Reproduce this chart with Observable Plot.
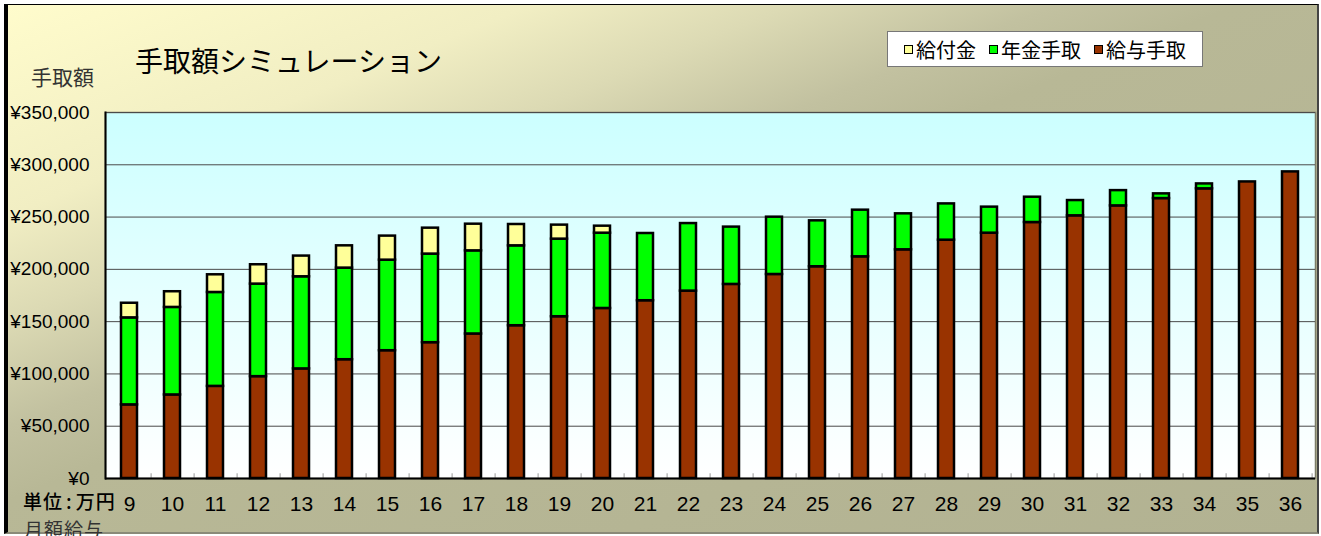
<!DOCTYPE html>
<html>
<head>
<meta charset="utf-8">
<script src="https://cdn.jsdelivr.net/npm/d3@7"></script>
<script src="https://cdn.jsdelivr.net/npm/@observablehq/plot@0.6"></script>
<style>
  body { margin: 0; background: #fff; }
  #chart { position: relative; width: 1321px; height: 536px; overflow: hidden;
           font-family: "Liberation Sans", "Noto Sans CJK JP", sans-serif; }
  #bg { position: absolute; left: 4px; top: 4px; width: 1315px; height: 530px; box-sizing: border-box;
        border-left: 4px solid #000; border-top: 1.5px solid #000; border-right: 2px solid #444; border-bottom: 2px solid #8a8a78;
        background: linear-gradient(to bottom right, #fffccc 0%, #f1eec3 20%, #dcdab4 30%, #c2c1a0 40%, #b8b896 47%, #b2b292 100%); }
  #plotwrap { position: absolute; left: 0; top: 0; }
  .lbl { position: absolute; white-space: nowrap; font-family: "Noto Sans CJK JP", sans-serif; }
  #title { left: 135px; top: 40px; font-size: 28px; color: #000; }
  #ylab { left: 31px; top: 61px; font-size: 21px; color: #333; }
  #unit { left: 23px; top: 487px; font-size: 19px; color: #000; font-weight: 500; letter-spacing: 1px; }
  #unit .c { margin: 0 3px; }
  #xlab { left: 24px; top: 515px; font-size: 19px; color: #333; letter-spacing: 1px; }
  #legend { position: absolute; left: 887px; top: 31px; width: 316px; height: 36px; box-sizing: border-box;
            background: #fff; border: 1px solid #777; display: flex; align-items: center; padding-left: 16px;
            font-family: "Noto Sans CJK JP", sans-serif; font-size: 20px; }
  .item { display: flex; align-items: center; margin-right: 13px; }
  .sw { width: 7px; height: 7px; border: 1.5px solid #000; margin-right: 3px; }
</style>
</head>
<body>
<div id="chart">
  <div id="bg"></div>
  <div id="plotwrap"></div>
  <div class="lbl" id="title">手取額シミュレーション</div>
  <div class="lbl" id="ylab">手取額</div>
  <div class="lbl" id="unit">単位<span class="c">:</span>万円</div>
  <div class="lbl" id="xlab">月額給与</div>
  <div id="legend"></div>
</div>
<script>
// ---- Data ----
const months = [9,10,11,12,13,14,15,16,17,18,19,20,21,22,23,24,25,26,27,28,29,30,31,32,33,34,35,36];
const salaryTakeHome = [70400,79900,88100,97400,104800,113600,122200,129900,138200,146100,154700,162600,170000,179200,185600,195100,202500,212000,218700,227900,234600,244800,251200,260700,267700,277000,283600,293200];
const pensionTakeHome = [83200,83700,89800,88500,88100,87600,86600,84700,79500,76400,74200,72000,64300,64600,54800,54800,43900,44600,34400,34700,24900,24200,14600,14600,4500,4700,0,0];
const benefit = [14000,15000,16900,18500,19800,21300,23000,24800,25500,20400,13400,6700,0,0,0,0,0,0,0,0,0,0,0,0,0,0,0,0];
const seriesNames = ["給与手取", "年金手取", "給付金"];
const seriesColors = ["#993300", "#00ff00", "#ffff99"];
const legendOrder = ["給付金", "年金手取", "給与手取"];
const yTicks = [0, 50000, 100000, 150000, 200000, 250000, 300000, 350000];

// ---- Build table ----
const seriesValues = [salaryTakeHome, pensionTakeHome, benefit];
const rows = [];
months.forEach((m, i) => {
  seriesValues.forEach((arr, k) => {
    if (arr[i] > 0) rows.push({month: String(m), series: seriesNames[k], value: arr[i]});
  });
});

const W = 1321, H = 536;
const mL = 105, mR = 6, mT = 112, mB = 58;
const step = (W - mL - mR) / months.length;
const yen = d => "¥" + d3.format(",")(d);

const svg = Plot.plot({
  width: W, height: H,
  marginLeft: mL, marginRight: mR, marginTop: mT, marginBottom: mB,
  style: {background: "none", overflow: "visible", fontFamily: "'Liberation Sans', 'Noto Sans CJK JP', sans-serif"},
  x: {type: "band", domain: months.map(String), paddingInner: 0.62, paddingOuter: 0.31, label: null},
  y: {domain: [0, 350000], label: null},
  color: {domain: seriesNames, range: seriesColors},
  marks: [
    Plot.frame({fill: "url(#plotGrad)", stroke: "#7d7d68", strokeWidth: 1.5}),
    Plot.gridY(yTicks, {stroke: "#4a4a4a", strokeOpacity: 1, strokeWidth: 1}),
    Plot.barY(rows, {x: "month", y: "value", fill: "series", order: seriesNames, stroke: "#000", strokeWidth: 2.5}),
    Plot.ruleX(months.map(String), {x: d => d, dx: step / 2, y1: 0, y2: 4500, stroke: "#999"}),
    Plot.ruleY([0], {stroke: "#000", strokeWidth: 2}),
    Plot.frame({anchor: "left", stroke: "#000", strokeWidth: 2}),
    Plot.axisY(yTicks, {tickFormat: yen, tickSize: 0, tickPadding: 16, fontSize: 19, fill: "#000", label: null}),
    Plot.axisX({tickSize: 0, tickPadding: 18, fontSize: 21, fill: "#000", label: null})
  ]
});

const ns = "http://www.w3.org/2000/svg";
const defs = document.createElementNS(ns, "defs");
defs.innerHTML = '<linearGradient id="plotGrad" x1="0" y1="0" x2="0" y2="1">' +
  '<stop offset="0" stop-color="#ccffff"/><stop offset="1" stop-color="#ffffff"/></linearGradient>';
svg.insertBefore(defs, svg.firstChild);
document.getElementById("plotwrap").appendChild(svg);

// ---- Legend ----
const legend = document.getElementById("legend");
legendOrder.forEach(name => {
  const item = document.createElement("div");
  item.className = "item";
  const sw = document.createElement("div");
  sw.className = "sw";
  sw.style.background = seriesColors[seriesNames.indexOf(name)];
  const t = document.createElement("span");
  t.textContent = name;
  item.appendChild(sw); item.appendChild(t);
  legend.appendChild(item);
});
</script>
</body>
</html>
